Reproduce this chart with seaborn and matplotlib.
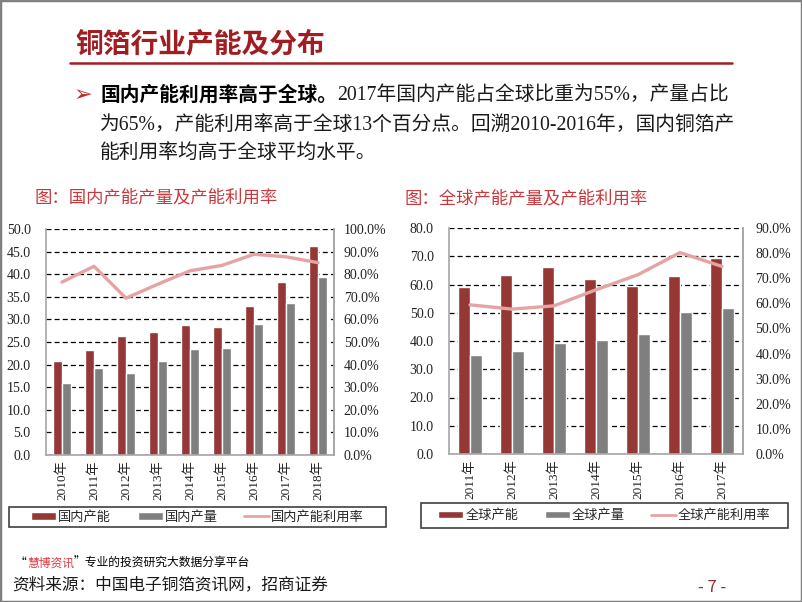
import numpy as np
import matplotlib.pyplot as plt
import pandas as pd
import seaborn as sns
from matplotlib.patches import Patch, Rectangle
from matplotlib.lines import Line2D

# Datos: 国内 (2010-2018) y 全球 (2011-2017)
anios_cn = ["2010年", "2011年", "2012年", "2013年", "2014年", "2015年", "2016年", "2017年", "2018年"]
capacidad_cn = [20.9, 23.3, 26.3, 27.3, 28.8, 28.4, 32.9, 38.2, 46.2]
produccion_cn = [16.0, 19.2, 18.2, 20.8, 23.5, 23.6, 29.0, 33.7, 39.4]
utilizacion_cn = [76.5, 83.5, 69.4, 75.6, 81.5, 83.9, 88.8, 87.7, 85.1]

anios_gl = ["2011年", "2012年", "2013年", "2014年", "2015年", "2016年", "2017年"]
capacidad_gl = [59.0, 63.5, 66.2, 62.1, 59.4, 63.0, 69.3]
produccion_gl = [35.0, 36.6, 39.2, 40.4, 42.5, 50.4, 51.8]
utilizacion_gl = [59.4, 57.7, 59.0, 65.4, 71.4, 80.2, 74.7]

ROJO_BARRA = "#953735"
GRIS_BARRA = "#7F7F7F"
ROSA_LINEA = "#E6A3A3"
ROJO_TITULO = "#A01D22"
ROJO_SUBTITULO = "#C8383C"
GRIS_BORDE = "#A6A6A6"

SERIF = ["Liberation Serif", "Noto Sans CJK SC", "DejaVu Sans"]
SANS = ["Noto Sans CJK SC", "DejaVu Sans"]

W, H = 802, 602


def fx(px):
    return px / W


def fy(py):
    return 1 - py / H


def texto_encadenado(fig, x, y, partes):
    """Escribe varios trozos de texto seguidos en la misma línea (px de la imagen)."""
    renderer = fig.canvas.get_renderer()
    xpos = fx(x)
    for texto, estilo in partes:
        t = fig.text(xpos, fy(y), texto, va="center", ha="left", **estilo)
        bb = t.get_window_extent(renderer=renderer)
        xpos = bb.x1 / W


def dibujar_panel(fig, caja, anios, capacidad, produccion, utilizacion, nombres,
                  ymax, paso, pmax, ancho, pad_izq, pad_der):
    n = len(anios)
    ax = fig.add_axes(caja)
    df = pd.DataFrame({
        "anio": anios * 2,
        "valor": capacidad + produccion,
        "serie": [nombres[0]] * n + [nombres[1]] * n,
    })
    sns.barplot(data=df, x="anio", y="valor", hue="serie", palette=[ROJO_BARRA, GRIS_BARRA],
                width=ancho, gap=0, saturation=1, legend=False, ax=ax)
    ax.set_ylim(0, ymax)
    ticks = np.arange(0, ymax + paso / 2, paso)
    ax.set_yticks(ticks)
    ax.set_yticklabels([f"{v:.1f}" for v in ticks], family=SERIF, fontsize=10, color="#222222")
    ax.set_xlabel("")
    ax.set_ylabel("")
    ax.tick_params(axis="x", rotation=90, labelsize=9.5, length=0, pad=4)
    ax.tick_params(axis="y", length=0, pad=pad_izq)
    for lab in ax.get_xticklabels():
        lab.set_family(SERIF)
        lab.set_color("#222222")
    ax.grid(axis="y", color="black", linestyle=(0, (4, 2.5)), linewidth=0.9)
    ax.set_axisbelow(True)
    for lado in ["left", "bottom", "right"]:
        ax.spines[lado].set_color(GRIS_BORDE)
        ax.spines[lado].set_linewidth(1.2)
    ax.spines["top"].set_visible(False)

    ax2 = ax.twinx()
    sns.lineplot(x=np.arange(n), y=utilizacion, color=ROSA_LINEA, linewidth=2.4, ax=ax2)
    ax2.set_ylim(0, pmax)
    pticks = np.arange(0, pmax + 5, 10)
    ax2.set_yticks(pticks)
    ax2.set_yticklabels([f"{v:.1f}%" for v in pticks], family=SERIF, fontsize=10, color="#222222")
    ax2.tick_params(axis="y", length=0, pad=pad_der)
    ax2.set_ylabel("")
    ax2.grid(False)
    for lado in ["top", "left", "bottom"]:
        ax2.spines[lado].set_visible(False)
    ax2.spines["right"].set_color(GRIS_BORDE)
    ax2.spines["right"].set_linewidth(1.2)
    ax.set_xlim(-0.5, n - 0.5)
    return ax


def dibujar_leyenda(fig, x0, y0, x1, y1, nombres):
    fig.add_artist(Rectangle((fx(x0), fy(y1)), fx(x1) - fx(x0), fy(y0) - fy(y1),
                             transform=fig.transFigure, facecolor="white",
                             edgecolor="#404040", linewidth=1.2))
    handles = [Patch(facecolor=ROJO_BARRA), Patch(facecolor=GRIS_BARRA),
               Line2D([], [], color=ROSA_LINEA, linewidth=2)]
    fig.legend(handles, nombres, loc="center", bbox_to_anchor=(fx((x0 + x1) / 2), fy((y0 + y1) / 2)),
               ncol=3, frameon=False, prop={"family": SANS, "size": 9.5},
               handlelength=1.9, handleheight=0.5, handletextpad=0.15, columnspacing=2.0,
               borderpad=0)


sns.set_theme(style="white")
plt.rcParams["font.family"] = SANS

fig = plt.figure(figsize=(W / 100, H / 100), dpi=100)

# Cabecera de la diapositiva
fig.text(fx(75), fy(44), "铜箔行业产能及分布", color=ROJO_TITULO, fontsize=20,
         fontweight="bold", family=SANS, va="center", ha="left")
fig.add_artist(Line2D([fx(70), fx(732)], [fy(63), fy(63)], transform=fig.transFigure,
                      color=ROJO_TITULO, linewidth=1.8))
fig.text(fx(74), fy(95), "➢", color="#C0282C", fontsize=16, family=["DejaVu Sans"],
         va="center", ha="left")
texto_encadenado(fig, 100, 95, [
    ("国内产能利用率高于全球。", {"fontsize": 14.2, "fontweight": "bold", "family": SANS, "color": "black"}),
    ("2017年国内产能占全球比重为55%，产量占比", {"fontsize": 14.2, "family": SERIF, "color": "#1a1a1a"}),
])
fig.text(fx(100), fy(125), "为65%，产能利用率高于全球13个百分点。回溯2010-2016年，国内铜箔产",
         fontsize=14.2, family=SERIF, color="#1a1a1a", va="center", ha="left")
fig.text(fx(100), fy(153), "能利用率均高于全球平均水平。",
         fontsize=14.2, family=SERIF, color="#1a1a1a", va="center", ha="left")

# Títulos de los gráficos
fig.text(fx(35), fy(197), "图：国内产能产量及产能利用率", color=ROJO_SUBTITULO, fontsize=12.5,
         family=SANS, va="center", ha="left")
fig.text(fx(405), fy(198), "图：全球产能产量及产能利用率", color=ROJO_SUBTITULO, fontsize=12.5,
         family=SANS, va="center", ha="left")

dibujar_panel(fig, [fx(46), fy(455), fx(334) - fx(46), fy(229) - fy(455)],
              anios_cn, capacidad_cn, produccion_cn, utilizacion_cn, ["国内产能", "国内产量"],
              ymax=50, paso=5, pmax=100, ancho=0.58, pad_izq=11, pad_der=7)
dibujar_panel(fig, [fx(449), fy(454), fx(743) - fx(449), fy(228) - fy(454)],
              anios_gl, capacidad_gl, produccion_gl, utilizacion_gl, ["全球产能", "全球产量"],
              ymax=80, paso=10, pmax=90, ancho=0.55, pad_izq=11, pad_der=9)

dibujar_leyenda(fig, 9, 507, 386, 527, ["国内产能", "国内产量", "国内产能利用率"])
dibujar_leyenda(fig, 421, 503, 788, 528, ["全球产能", "全球产量", "全球产能利用率"])

# Pie de página
texto_encadenado(fig, 15, 563, [
    ("“", {"fontsize": 8.5, "family": SANS, "color": "black"}),
    ("慧博资讯", {"fontsize": 8.5, "family": SANS, "color": "#E0383C"}),
    ("”专业的投资研究大数据分享平台", {"fontsize": 8.5, "family": SANS, "color": "black"}),
])
fig.text(fx(12), fy(585), "资料来源：中国电子铜箔资讯网，招商证券", fontsize=12, family=SERIF,
         color="#1a1a1a", va="center", ha="left")
fig.text(fx(712), fy(588), "- 7 -", fontsize=12, family=SANS, color="#9B2C2C",
         va="center", ha="center")

fig.add_artist(Rectangle((0, 0), 1, 1, transform=fig.transFigure, fill=False,
                         edgecolor="#808080", linewidth=2.5))

fig.savefig("out.png", dpi=100)
